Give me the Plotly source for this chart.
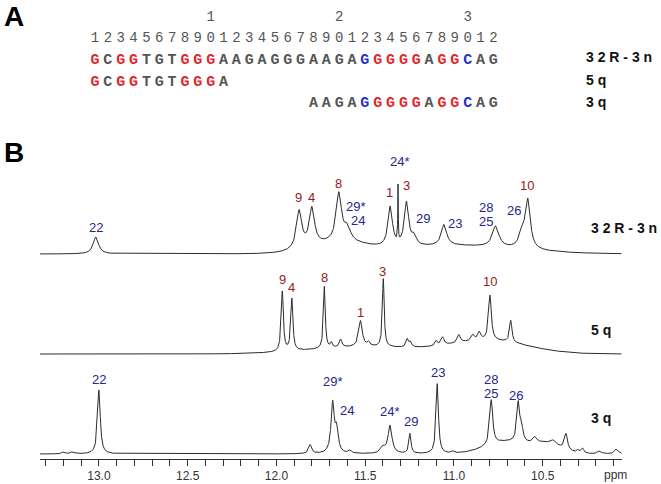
import numpy as np
import plotly.graph_objects as go

# ---------------- panel A: sequences ----------------
SEQ_32R = "GCGGTGTGGGAAGAGGGAAGAGGGGGAGGCAG"
SEQ_5Q = "GCGGTGTGGGA"
SEQ_3Q = "AAGAGGGGGAGGCAG"
START_5Q = 1
START_3Q = 18
RED_POS = [1, 3, 4, 8, 9, 10, 23, 24, 25, 26, 28, 29]
BLUE_POS = [22, 30]
SAMPLES = ["32R-3n", "5q", "3q"]

# ---------------- panel B: imino spectra ----------------
# sharp lines: position (ppm), amplitude (px), half width (ppm)
P32_PPM = [13.017, 11.872, 11.800, 11.648, 11.600, 11.359, 11.315, 11.267,
           11.224, 11.056, 10.765, 10.615, 10.583]
P32_AMP = [17, 38, 38, 48, 13, 40, 55, 44, 9, 21, 21, 16, 47]
P32_HW = [0.018, 0.018, 0.018, 0.018, 0.02, 0.015, 0.0015, 0.015,
          0.015, 0.018, 0.022, 0.02, 0.016]
# broad humps: centre, amplitude, sigma
B32 = [(11.65, 10, 0.15), (11.0, 8, 0.35)]

P5_PPM = [11.967, 11.913, 11.730, 11.690, 11.638, 11.526, 11.480, 11.398,
          11.263, 11.245, 11.100, 11.064, 10.972, 10.893, 10.857, 10.797, 10.680]
P5_AMP = [60, 52, 62, 5, 8, 26, 4, 68, 8, 5, 5, 8, 8, 6, 8, 45, 22]
P5_HW = [0.007, 0.007, 0.006, 0.006, 0.008, 0.012, 0.008, 0.006,
         0.008, 0.008, 0.008, 0.01, 0.01, 0.01, 0.01, 0.009, 0.008]
B5 = [(11.5, 7, 0.3), (10.8, 13, 0.22)]

P3_PPM = [13.20, 13.15, 13.00, 11.81, 11.683, 11.660, 11.586, 11.40, 11.36,
          11.248, 11.094, 11.006, 10.79, 10.638, 10.62, 10.544, 10.44, 10.369,
          10.30, 10.275, 10.18, 10.084]
P3_AMP = [2, 2, 64, 9, 50, 22, 3, 6, 28, 20, 70, 2, 45, 38, 15, 6, 4, 16,
          3, 5, 3, 5]
P3_HW = [0.01, 0.01, 0.009, 0.01, 0.011, 0.01, 0.01, 0.015, 0.013, 0.007,
         0.008, 0.01, 0.01, 0.009, 0.01, 0.012, 0.015, 0.01, 0.008, 0.008,
         0.012, 0.012]
B3 = [(10.7, 12, 0.12), (10.47, 9, 0.08)]

# peak assignments: label, ppm, height above that trace's baseline
L32_TXT = ["22", "9", "4", "8", "29*", "24", "1", "24*", "3", "29", "23", "28", "25", "26", "10"]
L32_PPM = [13.017, 11.873, 11.800, 11.648, 11.554, 11.540, 11.361, 11.304, 11.267,
           11.173, 10.993, 10.820, 10.820, 10.662, 10.587]
L32_H = [27, 57, 57, 71, 48, 34, 62, 93, 69, 36, 31, 47, 33, 44, 69]

L5_TXT = ["9", "4", "8", "1", "3", "10"]
L5_PPM = [11.967, 11.915, 11.731, 11.525, 11.401, 10.797]
L5_H = [75, 67, 77, 42, 83, 73]

L3_TXT = ["22", "29*", "24", "24*", "29", "23", "28", "25", "26"]
L3_PPM = [13.0, 11.683, 11.605, 11.361, 11.244, 11.089, 10.792, 10.792, 10.652]
L3_H = [75, 73, 44, 43, 33, 82, 75, 61, 59]

TICK_PPM = [13.0, 12.5, 12.0, 11.5, 11.0, 10.5]
TICK_TXT = ["13.0", "12.5", "12.0", "11.5", "11.0", "10.5"]

PPM_LO, PPM_HI = 10.055, 13.332
W, H = 661, 484
RED, BLUE, GREY = "#e3262b", "#2432c8", "#555555"
LAB_RED, LAB_BLUE = "#97191c", "#26268c"
SANS = "Arial, Liberation Sans"


def spectrum(ppm, amp, hw, broad, x):
    y = np.zeros_like(x)
    for c, a, w in zip(ppm, amp, hw):
        y += a / (1.0 + ((x - c) / w) ** 2)
    for c, a, s in broad:
        y += a * np.exp(-0.5 * ((x - c) / s) ** 2)
    return y


def note(x, y, text, font, xanchor="center"):
    # paper-referenced label, positioned in reference pixels
    return dict(x=x / W, y=1 - y / H, xref="paper", yref="paper", text=text,
                showarrow=False, xanchor=xanchor, yanchor="middle", font=font)


x = np.arange(PPM_LO, PPM_HI, 0.0005)
traces = [
    ("32R-3n", P32_PPM, P32_AMP, P32_HW, B32, 205, L32_TXT, L32_PPM, L32_H),
    ("5q", P5_PPM, P5_AMP, P5_HW, B5, 105, L5_TXT, L5_PPM, L5_H),
    ("3q", P3_PPM, P3_AMP, P3_HW, B3, 5, L3_TXT, L3_PPM, L3_H),
]

fig = go.Figure()
annotations = []
for name, pp, aa, ww, bb, off, ltxt, lppm, lh in traces:
    fig.add_trace(go.Scatter(
        x=x, y=spectrum(pp, aa, ww, bb, x) + off, mode="lines",
        line=dict(color="#2b2b2b", width=1), name=name, hoverinfo="skip",
    ))
    for t, p, h in zip(ltxt, lppm, lh):
        res = int(t.rstrip("*"))
        annotations.append(dict(
            x=p, y=off + h, xref="x", yref="y", text=t, showarrow=False,
            xanchor="center", yanchor="middle",
            font=dict(family=SANS, size=13,
                      color=LAB_RED if res <= 10 else LAB_BLUE),
        ))


# sequence rows on a residue-number axis
def colour(n):
    if n in RED_POS:
        return RED
    if n in BLUE_POS:
        return BLUE
    return GREY


n_all = list(range(1, len(SEQ_32R) + 1))
mono = "Courier New, Liberation Mono, monospace"
fig.add_trace(go.Scatter(
    x=[10, 20, 30], y=[0, 0, 0], text=["1", "2", "3"], mode="text",
    textfont=dict(family=mono, size=14, color=GREY), xaxis="x2", yaxis="y2",
    hoverinfo="skip",
))
fig.add_trace(go.Scatter(
    x=n_all, y=[1] * len(n_all), text=[str(n % 10) for n in n_all], mode="text",
    textfont=dict(family=mono, size=14, color=GREY), xaxis="x2", yaxis="y2",
    hoverinfo="skip",
))
for row, (seq, start) in enumerate([(SEQ_32R, 1), (SEQ_5Q, START_5Q), (SEQ_3Q, START_3Q)]):
    pos = list(range(start, start + len(seq)))
    fig.add_trace(go.Scatter(
        x=pos, y=[row + 2] * len(pos), text=list(seq), mode="text",
        textfont=dict(family=mono, size=15, weight="bold",
                      color=[colour(n) for n in pos]),
        xaxis="x2", yaxis="y2", hoverinfo="skip",
    ))

bold = dict(family=SANS, size=14, color="#111111")
for name, ya, yb in zip(SAMPLES, [57, 80, 102], [228, 330, 418]):
    spaced = "<b>%s</b>" % " ".join(name)
    annotations.append(note(584, ya, spaced, bold, "left"))
    annotations.append(note(589, yb, spaced, bold, "left"))

for letter, yy in [("A", 16), ("B", 152)]:
    annotations.append(note(14, yy, "<b>%s</b>" % letter,
                            dict(family=SANS, size=28, color="#000")))
annotations.append(note(615, 475, "ppm", dict(family=SANS, size=12, color="#333")))

fig.update_layout(
    width=W, height=H, margin=dict(l=0, r=0, t=0, b=0),
    paper_bgcolor="white", plot_bgcolor="rgba(0,0,0,0)", showlegend=False,
    annotations=annotations,
    xaxis=dict(
        domain=[40 / W, 621.7 / W], range=[PPM_HI, PPM_LO], anchor="y",
        showline=True, linecolor="#333", linewidth=1, showgrid=False, zeroline=False,
        ticks="outside", ticklen=6, tickcolor="#333", tickvals=TICK_PPM, ticktext=TICK_TXT,
        tickfont=dict(family=SANS, size=12, color="#333"),
        minor=dict(dtick=0.1, tick0=10.0, ticks="outside", ticklen=6, tickcolor="#333"),
    ),
    yaxis=dict(domain=[25 / H, 1], range=[0, 459], visible=False),
    xaxis2=dict(domain=[0, 1], range=[-6.393, 45.047], visible=False, anchor="y2"),
    yaxis2=dict(domain=[0, 1], range=[21.606, -0.801], visible=False, anchor="x2"),
)

fig.write_html("out.html", config={"displayModeBar": False},
               post_script="document.body.style.margin='0px';")
